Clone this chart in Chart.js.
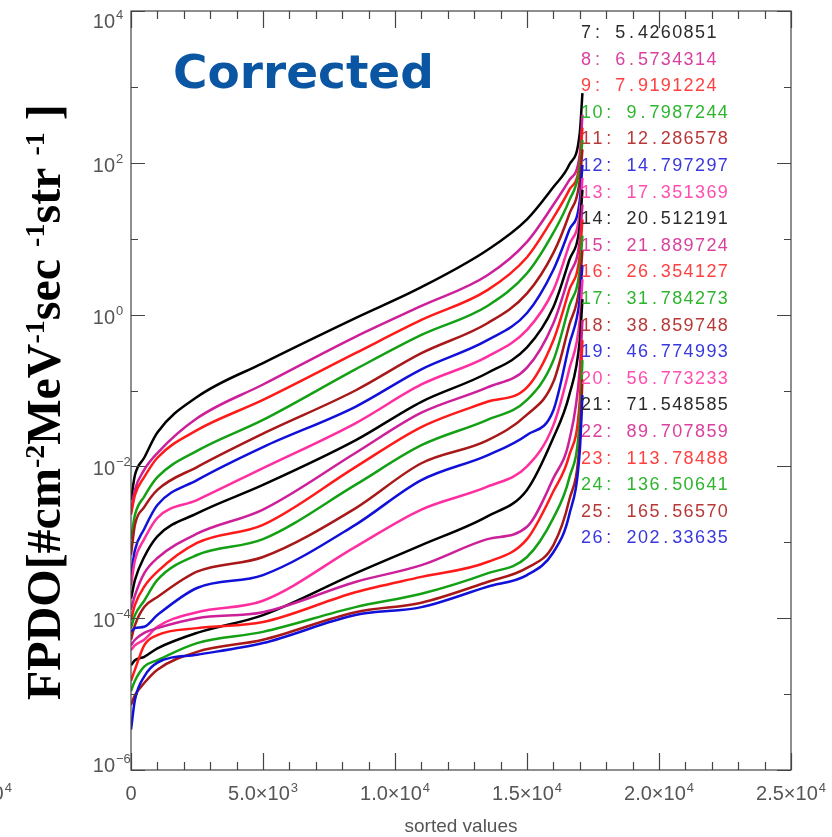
<!DOCTYPE html>
<html>
<head>
<meta charset="utf-8">
<script src="https://cdn.jsdelivr.net/npm/chart.js@4.4.1/dist/chart.umd.min.js"></script>
<style>
  html, body { margin: 0; padding: 0; background: #fff; }
  canvas { display: block; }
</style>
</head>
<body>
<canvas id="fpdoChart" width="832" height="837"></canvas>
<script>
// sorted sample position (x) shared by every channel
const sortedIndex = [0, 150, 500, 1000, 2500, 5000, 8500, 11000, 13500, 15000, 16000, 16600, 17000, 17100];

// FPDO per channel
const ch7  = [3.6e-3, 7.7e-3, 1.3e-2, 2.8e-2, 8.2e-2, 0.23, 0.90, 2.3, 7.1, 18, 48, 94, 250, 830];
const ch8  = [2.5e-3, 4.9e-3, 9.0e-3, 1.5e-2, 4.3e-2, 0.12, 0.51, 1.3, 3.3, 9.1, 28, 59, 130, 430];
const ch9  = [2.3e-3, 4.2e-3, 7.2e-3, 1.3e-2, 3.0e-2, 7.5e-2, 0.31, 0.85, 2.1, 5.7, 19, 44, 100, 290];
const ch10 = [1.1e-3, 2.3e-3, 4.0e-3, 7.2e-3, 1.6e-2, 4.1e-2, 0.19, 0.54, 1.3, 3.5, 12, 32, 86, 200];
const ch11 = [6.8e-4, 1.7e-3, 2.9e-3, 4.9e-3, 9.8e-3, 2.7e-2, 0.10, 0.31, 0.77, 1.9, 6.5, 21, 59, 150];
const ch12 = [3.7e-4, 7.9e-4, 1.5e-3, 3.1e-3, 6.6e-3, 1.8e-2, 6.1e-2, 0.19, 0.46, 1.05, 3.9, 13, 32, 94];
const ch13 = [2.7e-4, 5.8e-4, 1.1e-3, 2.1e-3, 3.6e-3, 9.5e-3, 3.7e-2, 0.12, 0.28, 0.63, 2.1, 8.3, 22, 63];
const ch14 = [1.8e-4, 3.2e-4, 6.4e-4, 1.2e-3, 2.4e-3, 5.7e-3, 2.2e-2, 7.1e-2, 0.17, 0.37, 1.26, 5.2, 15, 44];
const ch15 = [1.3e-4, 2.0e-4, 3.9e-4, 6.2e-4, 1.3e-3, 2.7e-3, 1.5e-2, 5.1e-2, 0.11, 0.20, 0.77, 3.3, 9.6, 28];
const ch16 = [9.5e-5, 1.5e-4, 2.6e-4, 4.1e-4, 9.8e-4, 1.7e-3, 9.8e-3, 3.3e-2, 7.1e-2, 0.11, 0.46, 2.1, 6.1, 18];
const ch17 = [7.4e-5, 1.1e-4, 1.7e-4, 3.2e-4, 6.8e-4, 1.1e-3, 5.7e-3, 1.9e-2, 4.1e-2, 7.5e-2, 0.25, 1.3, 3.9, 11];
const ch18 = [5.2e-5, 8.1e-5, 1.4e-4, 1.9e-4, 4.1e-4, 6.4e-4, 2.8e-3, 1.1e-2, 2.2e-2, 4.8e-2, 0.13, 0.73, 2.5, 7.1];
const ch19 = [6.6e-5, 7.4e-5, 7.7e-5, 1.1e-4, 2.5e-4, 3.7e-4, 1.7e-3, 6.6e-3, 1.4e-2, 2.6e-2, 5.5e-2, 0.40, 1.6, 4.5];
const ch20 = [3.8e-5, 4.4e-5, 5.2e-5, 7.7e-5, 1.2e-4, 1.7e-4, 8.7e-4, 2.7e-3, 5.4e-3, 1.0e-2, 3.5e-2, 0.19, 0.85, 2.9];
const ch21 = [2.4e-5, 2.8e-5, 3.1e-5, 4.0e-5, 6.4e-5, 1.1e-4, 3.9e-4, 9.2e-4, 2.2e-3, 4.9e-3, 2.4e-2, 8.7e-2, 0.46, 1.6];
const ch22 = [4.4e-5, 5.2e-5, 6.4e-5, 7.4e-5, 1.0e-4, 1.2e-4, 3.0e-4, 5.0e-4, 1.1e-3, 1.6e-3, 7.0e-3, 2.2e-2, 0.19, 0.85];
const ch23 = [1.5e-5, 2.1e-5, 4.4e-5, 6.0e-5, 7.4e-5, 8.9e-5, 2.2e-4, 3.5e-4, 5.5e-4, 1.1e-3, 4.7e-3, 1.4e-2, 7.5e-2, 0.46];
const ch24 = [1.1e-5, 1.5e-5, 2.3e-5, 2.8e-5, 4.7e-5, 6.6e-5, 1.4e-4, 2.1e-4, 3.9e-4, 6.4e-4, 2.1e-3, 7.0e-3, 4.1e-2, 0.25];
const ch25 = [7.2e-6, 9.7e-6, 1.4e-5, 2.1e-5, 3.6e-5, 5.2e-5, 1.2e-4, 1.6e-4, 3.0e-4, 4.6e-4, 9.2e-4, 3.6e-3, 2.2e-2, 0.14];
const ch26 = [3.4e-6, 8.4e-6, 1.7e-5, 2.6e-5, 3.3e-5, 4.7e-5, 1.1e-4, 1.4e-4, 2.6e-4, 3.7e-4, 7.4e-4, 2.3e-3, 1.6e-2, 8.7e-2];

const channels = [ch7, ch8, ch9, ch10, ch11, ch12, ch13, ch14, ch15, ch16, ch17, ch18, ch19, ch20, ch21, ch22, ch23, ch24, ch25, ch26];
const channelLabels = ['7: 5.4260851', '8: 6.5734314', '9: 7.9191224', '10: 9.7987244', '11: 12.286578',
  '12: 14.797297', '13: 17.351369', '14: 20.512191', '15: 21.889724', '16: 26.354127',
  '17: 31.784273', '18: 38.859748', '19: 46.774993', '20: 56.773233', '21: 71.548585',
  '22: 89.707859', '23: 113.78488', '24: 136.50641', '25: 165.56570', '26: 202.33635'];

// axis tick labels
const xTickValues = [0, 5000, 10000, 15000, 20000, 25000];
const xTickText = ['0', '5.0\u00d710', '1.0\u00d710', '1.5\u00d710', '2.0\u00d710', '2.5\u00d710'];
const xTickExp = ['', '3', '4', '4', '4', '4'];
const yTickValues = [1e4, 1e2, 1e0, 1e-2, 1e-4, 1e-6];
const yTickExp = ['4', '2', '0', '\u22122', '\u22124', '\u22126'];

// IDL colour cycle: black, magenta, red, green, brown, blue, pink
const lineColors = ['#000000', '#cc1f99', '#ff1a1a', '#14a014', '#a81818', '#1010d8', '#ff2ea0'];
const textColors = ['#2a2a2a', '#d9409f', '#ff4040', '#2eb52e', '#b83838', '#3838dd', '#ff4db0'];

const datasets = channels.map((vals, i) => ({
  label: channelLabels[i],
  data: vals.map((v, k) => ({ x: sortedIndex[k], y: v })),
  borderColor: lineColors[i % 7],
  borderWidth: 2.5,
  pointRadius: 0,
  fill: false,
  cubicInterpolationMode: 'monotone',
  order: 100 - i
}));

function drawSup(ctx, base, exp, x, y, bigFont, smallFont, rise) {
  ctx.font = bigFont;
  ctx.fillText(base, x, y);
  const w = ctx.measureText(base).width;
  if (exp) {
    ctx.font = smallFont;
    ctx.fillText(exp, x + w + 1, y - rise);
  }
}

const idlFrame = {
  id: 'idlFrame',
  afterDraw(chart) {
    const { ctx, chartArea: a, scales: { x, y } } = chart;
    ctx.save();

    // box + inward ticks
    ctx.strokeStyle = '#444';
    ctx.lineWidth = 1.2;
    ctx.strokeRect(a.left, a.top, a.right - a.left, a.bottom - a.top);
    ctx.beginPath();
    for (let v = 0; v <= 25000; v += 1000) {
      const px = Math.round(x.getPixelForValue(v)) + 0.5;
      const len = v % 5000 === 0 ? 17 : 8;
      ctx.moveTo(px, a.bottom); ctx.lineTo(px, a.bottom - len);
      ctx.moveTo(px, a.top); ctx.lineTo(px, a.top + len);
    }
    for (let e = -6; e <= 4; e++) {
      const py = Math.round(y.getPixelForValue(Math.pow(10, e))) + 0.5;
      const len = e % 2 === 0 ? 14 : 7;
      ctx.moveTo(a.left, py); ctx.lineTo(a.left + len, py);
      ctx.moveTo(a.right, py); ctx.lineTo(a.right - len, py);
    }
    ctx.stroke();

    // tick labels
    ctx.fillStyle = '#555';
    ctx.textBaseline = 'alphabetic';
    xTickValues.forEach((v, i) => {
      ctx.font = '20px "Liberation Sans"';
      const w = ctx.measureText(xTickText[i]).width;
      ctx.font = '13px "Liberation Sans"';
      const we = xTickExp[i] ? ctx.measureText(xTickExp[i]).width + 1 : 0;
      const px = x.getPixelForValue(v) - (w + we) / 2;
      ctx.textAlign = 'left';
      drawSup(ctx, xTickText[i], xTickExp[i], px, 800, '20px "Liberation Sans"', '13px "Liberation Sans"', 8);
    });
    // clipped label of neighbouring panel
    drawSup(ctx, '1.0\u00d710', '4', -58, 800, '20px "Liberation Sans"', '13px "Liberation Sans"', 8);

    yTickValues.forEach((v, i) => {
      const py = y.getPixelForValue(v);
      const base = Math.min(Math.max(py + 9, 28), 772);
      ctx.textAlign = 'right';
      ctx.font = '20px "Liberation Sans"';
      ctx.fillText('10', 115, base);
      ctx.textAlign = 'left';
      ctx.font = '13px "Liberation Sans"';
      ctx.fillText(yTickExp[i], 116, base - 9);
    });

    // x title
    ctx.textAlign = 'center';
    ctx.font = '19px "Liberation Sans"';
    ctx.fillText('sorted values', (a.left + a.right) / 2, 832);

    // channel list, fixed advance like the IDL vector font
    ctx.font = '18px "Liberation Sans"';
    ctx.textAlign = 'center';
    channelLabels.forEach((t, i) => {
      ctx.fillStyle = textColors[i % 7];
      const ty = 38 + i * 26.6;
      for (let k = 0; k < t.length; k++) {
        ctx.fillText(t[k], 586 + k * 11.4, ty);
      }
    });

    // panel title
    ctx.textAlign = 'left';
    ctx.fillStyle = '#0b56a3';
    ctx.font = 'bold 47px "DejaVu Sans"';
    ctx.fillText('Corrected', 173, 88);

    // y title, rotated, with superscripts
    ctx.translate(60, 700);
    ctx.rotate(-Math.PI / 2);
    ctx.fillStyle = '#000';
    const big = 'bold 48px "Liberation Serif"';
    const small = 'bold 28px "Liberation Serif"';
    const parts = [['FPDO[#cm', 0], ['-2', 1], ['MeV', 0], ['-1', 1], ['sec ', 0], ['-1', 1], ['str ', 0], ['-1', 1], [' ]', 0]];
    let cx = 0;
    parts.forEach(([s, sup]) => {
      ctx.font = sup ? small : big;
      ctx.fillText(s, cx, sup ? -16 : 0);
      cx += ctx.measureText(s).width;
    });
    ctx.restore();
  }
};

const ctx = document.getElementById('fpdoChart').getContext('2d');
new Chart(ctx, {
  type: 'line',
  data: { datasets },
  options: {
    responsive: false,
    animation: false,
    devicePixelRatio: 1,
    layout: { padding: { left: 131, right: 41, top: 11, bottom: 67 } },
    scales: {
      x: { type: 'linear', min: 0, max: 25000, display: false },
      y: { type: 'logarithmic', min: 1e-6, max: 1e4, display: false }
    },
    plugins: { legend: { display: false }, tooltip: { enabled: false } }
  },
  plugins: [idlFrame]
});
</script>
</body>
</html>
